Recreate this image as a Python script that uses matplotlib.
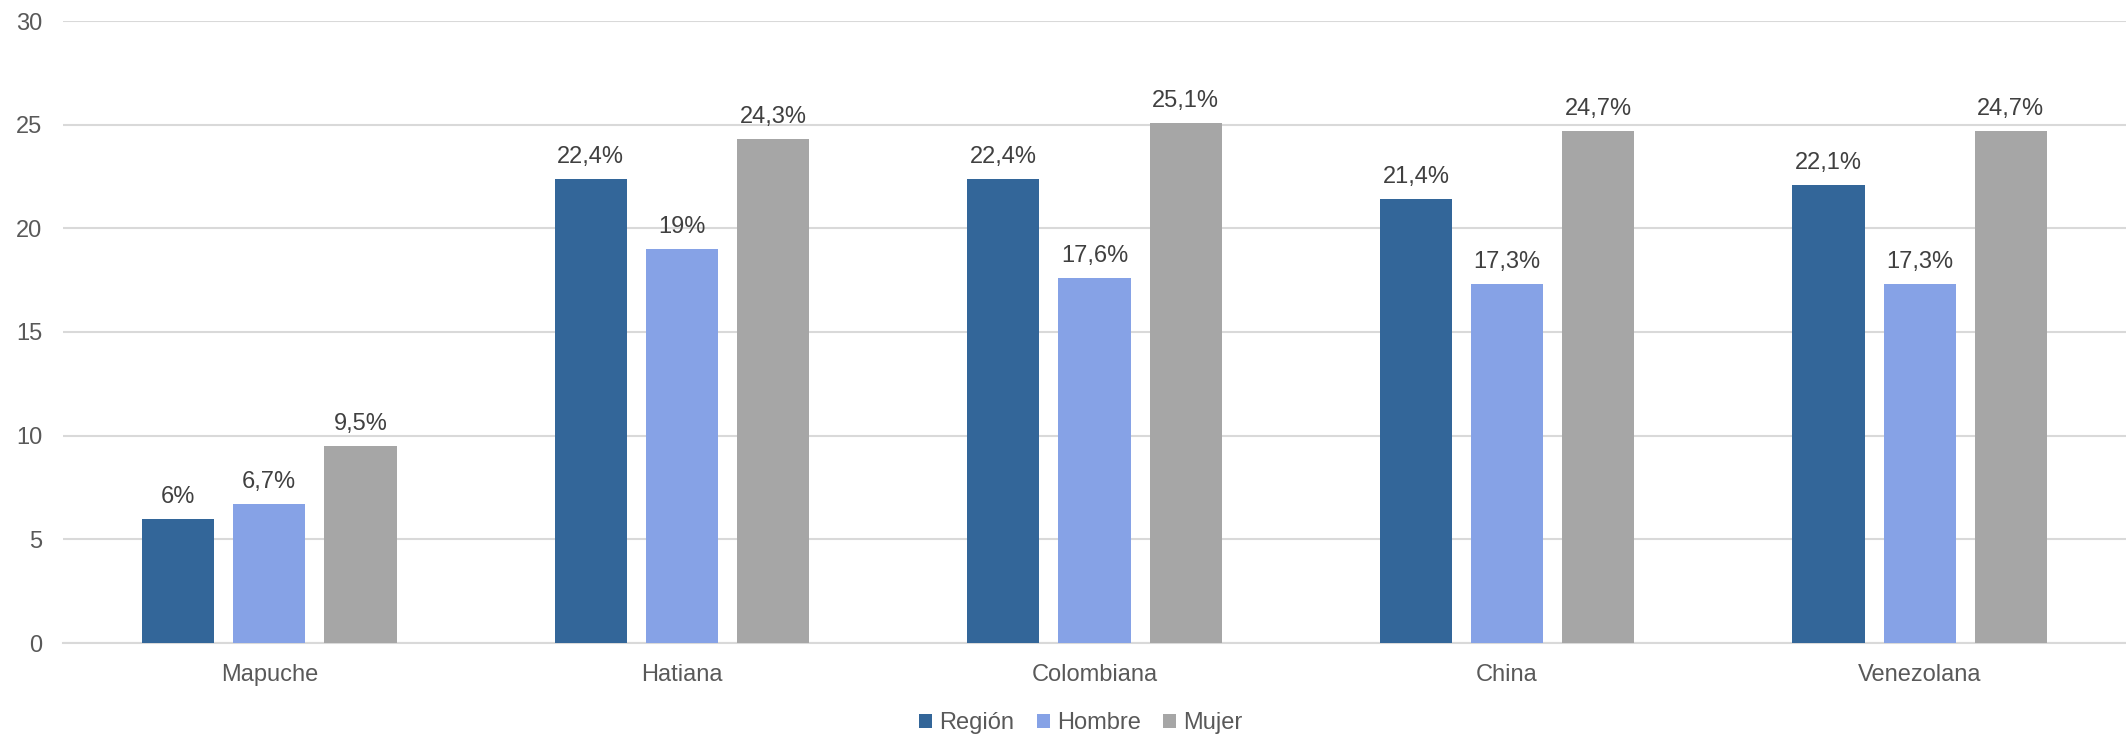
import matplotlib.pyplot as plt
import numpy as np

plt.rcParams['font.family'] = ['Liberation Sans', 'DejaVu Sans']

# Data
categories = ['Mapuche', 'Hatiana', 'Colombiana', 'China', 'Venezolana']
region = [6.0, 22.4, 22.4, 21.4, 22.1]
hombre = [6.7, 19.0, 17.6, 17.3, 17.3]
mujer = [9.5, 24.3, 25.1, 24.7, 24.7]
series_names = ['Región', 'Hombre', 'Mujer']
colors = ['#336699', '#86A2E6', '#A6A6A6']

fig = plt.figure(figsize=(21.26, 7.38), dpi=100)
ax = fig.add_axes([63 / 2126, 1 - 643 / 738, (2126 - 63) / 2126, (643 - 21) / 738])

x = np.arange(len(categories))
width = 0.175
step = 0.221

def fmt(v):
    s = ('%.1f' % v).rstrip('0').rstrip('.')
    return s.replace('.', ',') + '%'

for i, (vals, name, col) in enumerate(zip([region, hombre, mujer], series_names, colors)):
    bars = ax.bar(x + (i - 1) * step, vals, width, color=col, label=name, zorder=3)
    for b, v in zip(bars, vals):
        ax.annotate(fmt(v), (b.get_x() + b.get_width() / 2, v), xytext=(0, 11.5),
                    textcoords='offset points', ha='center', va='baseline',
                    fontsize=17, color='#404040')

ax.set_xlim(-0.5, len(categories) - 0.5)
ax.set_ylim(0, 30)
ax.set_yticks(range(0, 31, 5))
ax.yaxis.grid(True, color='#D9D9D9', linewidth=1.5, zorder=0)
ax.set_xticks(x)
ax.set_xticklabels(categories)
ax.tick_params(axis='both', length=0, labelsize=17, labelcolor='#595959')
ax.tick_params(axis='x', pad=15)
ax.tick_params(axis='y', pad=15)
for side in ['top', 'right', 'left']:
    ax.spines[side].set_visible(False)
ax.spines['bottom'].set_color('#D9D9D9')
ax.spines['bottom'].set_linewidth(1.5)

leg = fig.legend(loc='center', bbox_to_anchor=(1081 / 2126, 1 - 723 / 738), ncol=3, frameon=False,
                 fontsize=17, handlelength=0.55, handleheight=0.55, handletextpad=0.3,
                 columnspacing=0.95)
for t in leg.get_texts():
    t.set_color('#595959')

fig.savefig('out.png', dpi=100)
